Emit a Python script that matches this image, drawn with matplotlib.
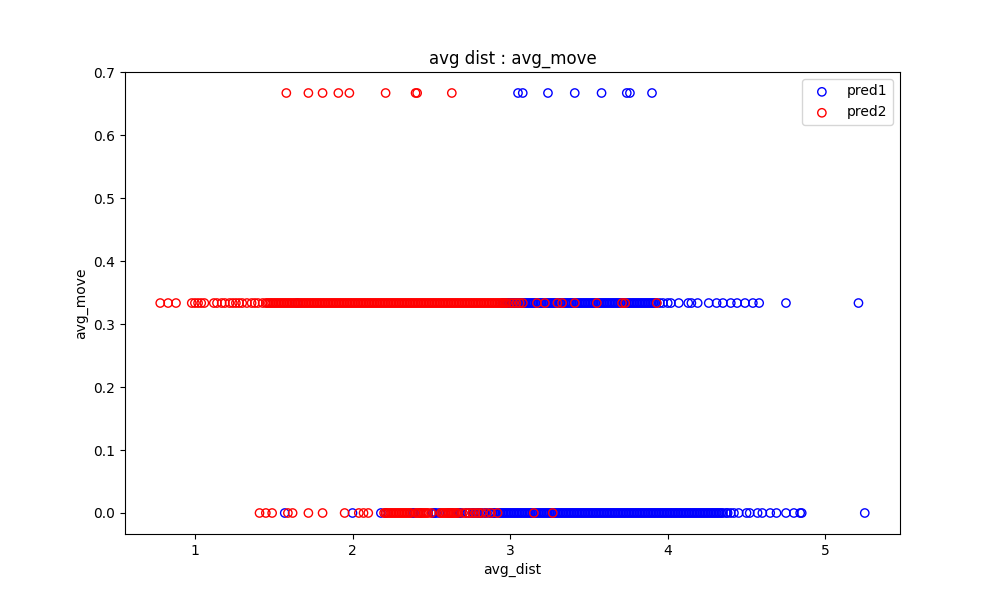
import numpy as np
import matplotlib
matplotlib.use('Agg')
import matplotlib.pyplot as plt

# avg_move levels
move_hi = 0.6667
move_mid = 0.3333
move_lo = 0.0

# pred1 (blue) avg_dist per level
p1_hi = [3.05, 3.08, 3.24, 3.41, 3.58, 3.74, 3.76, 3.90]
p1_mid = [1.65, 2.95, 2.98, 3.01, 3.04, 3.06, 3.09, 3.11, 3.14, 3.16, 3.18, 3.21,
          3.23, 3.26, 3.28, 3.31, 3.34, 3.36, 3.39, 3.42, 3.44, 3.47, 3.49, 3.52,
          3.55, 3.57, 3.60, 3.62, 3.65, 3.68, 3.70, 3.72, 3.75, 3.78, 3.81, 3.84,
          3.88, 3.91, 3.95, 4.00, 4.02, 4.07, 4.13, 4.15, 4.19, 4.26, 4.31, 4.35,
          4.40, 4.44, 4.49, 4.54, 4.58, 4.75, 5.21,
          2.96, 2.99, 3.02, 3.05, 3.07, 3.10, 3.12, 3.15, 3.17, 3.19, 3.22, 3.24,
          3.27, 3.29, 3.32, 3.35, 3.37, 3.40, 3.43, 3.45, 3.48, 3.50, 3.53, 3.56,
          3.58, 3.61, 3.63, 3.66, 3.69, 3.71, 3.73, 3.76, 3.79, 3.82, 3.86, 3.89,
          3.93,
          2.97, 3.00, 3.03, 3.08, 3.13, 3.20, 3.25, 3.30, 3.33, 3.38, 3.41, 3.46,
          3.51, 3.54, 3.59, 3.64, 3.67, 3.74, 3.77, 3.80, 3.83, 3.85, 3.87, 3.90,
          3.92, 3.97]
p1_lo = [1.57, 2.00, 2.18, 2.21, 2.38, 2.43, 2.52, 2.55, 2.61, 2.63, 2.67, 2.69,
         2.72, 2.76, 2.79, 2.81, 2.84, 2.87, 2.89, 2.93, 2.95, 2.98, 3.00, 3.02,
         3.05, 3.07, 3.10, 3.12, 3.14, 3.17, 3.19, 3.21, 3.24, 3.26, 3.29, 3.31,
         3.33, 3.36, 3.38, 3.40, 3.43, 3.45, 3.47, 3.50, 3.52, 3.54, 3.57, 3.59,
         3.61, 3.64, 3.66, 3.68, 3.71, 3.73, 3.75, 3.78, 3.80, 3.82, 3.85, 3.87,
         3.89, 3.92, 3.94, 3.96, 3.99, 4.02, 4.05, 4.08, 4.11, 4.14, 4.17, 4.20,
         4.23, 4.26, 4.29, 4.32, 4.35, 4.38, 4.42, 4.45, 4.50, 4.52, 4.57, 4.60,
         4.65, 4.69, 4.75, 4.80, 4.84, 4.85, 5.25,
         2.80, 2.82, 2.85, 2.88, 2.90, 2.91, 2.94, 2.96, 2.97, 2.99, 3.01, 3.03,
         3.04, 3.06, 3.08, 3.09, 3.11, 3.13, 3.15, 3.16, 3.18, 3.20, 3.22, 3.23,
         3.25, 3.27, 3.28, 3.30, 3.32, 3.34, 3.35, 3.37, 3.39, 3.41, 3.42, 3.44,
         3.46, 3.48, 3.49, 3.51, 3.53, 3.55, 3.56, 3.58, 3.60, 3.62, 3.63, 3.65,
         3.67, 3.69, 3.70, 3.72, 3.74, 3.76, 3.77, 3.79, 3.81, 3.83, 3.84, 3.86,
         3.88, 3.90, 3.91, 3.93, 3.95, 3.97, 3.98, 4.00, 4.01, 4.03, 4.04, 4.06,
         4.07, 4.09, 4.10, 4.12, 4.13, 4.15, 4.16, 4.18, 4.19, 4.21, 4.22, 4.24,
         4.25, 4.27, 4.28, 4.30, 4.31, 4.33, 4.34, 4.37, 4.40,
         2.39, 2.51, 2.53, 2.68, 2.74, 2.77]

# pred2 (red) avg_dist per level
p2_hi = [1.58, 1.72, 1.81, 1.91, 1.98, 2.21, 2.40, 2.41, 2.63]
p2_mid = [0.78, 0.83, 0.88, 0.98, 1.00, 1.02, 1.04, 1.06, 1.12, 1.14, 1.17, 1.19,
          1.22, 1.24, 1.26, 1.28, 1.30, 1.33, 1.36, 1.38, 1.40, 1.43, 1.46, 1.48,
          1.50, 1.53, 1.55, 1.57, 1.59, 1.61, 1.63, 1.66, 1.68, 1.70, 1.72, 1.74,
          1.76, 1.78, 1.80, 1.82, 1.84, 1.86, 1.88, 1.90, 1.92, 1.94, 1.96, 1.98,
          2.00, 2.02, 2.04, 2.06, 2.08, 2.10, 2.12, 2.14, 2.16, 2.18, 2.20, 2.22,
          2.24, 2.26, 2.28, 2.30, 2.32, 2.34, 2.36, 2.38, 2.40, 2.42, 2.44, 2.46,
          2.48, 2.50, 2.52, 2.54, 2.56, 2.58, 2.60, 2.62, 2.64, 2.66, 2.68, 2.70,
          2.72, 2.74, 2.76, 2.78, 2.80, 2.83, 2.86, 2.89, 2.92, 2.95, 2.98, 3.02,
          3.06, 3.08, 3.17, 3.22, 3.30, 3.33, 3.41, 3.55, 3.71, 3.73, 3.93,
          1.75, 1.77, 1.79, 1.81, 1.83, 1.85, 1.87, 1.89, 1.91, 1.93, 1.95, 1.97,
          1.99, 2.01, 2.03, 2.05, 2.07, 2.09, 2.11, 2.13, 2.15, 2.17, 2.19, 2.21,
          2.23, 2.25, 2.27, 2.29, 2.31, 2.33, 2.35, 2.37, 2.39, 2.41, 2.43, 2.45,
          2.47, 2.49, 2.51, 2.53, 2.55, 2.57, 2.59, 2.61, 2.63, 2.65, 2.67, 2.69,
          2.71, 2.73, 2.75, 2.77, 2.79, 2.81, 2.84, 2.87, 2.90, 2.93, 2.96, 3.00,
          3.04,
          1.45, 1.47, 1.49, 1.51, 1.52, 1.54, 1.56, 1.58, 1.60, 1.62, 1.64, 1.65,
          1.67, 1.69, 1.71, 1.73, 2.82, 2.85, 2.88, 2.91, 2.94, 2.97]
p2_lo = [1.41, 1.45, 1.49, 1.59, 1.62, 1.72, 1.81, 1.95, 2.04, 2.07, 2.10, 2.20,
         2.22, 2.24, 2.26, 2.28, 2.30, 2.32, 2.34, 2.36, 2.40, 2.42, 2.44, 2.46,
         2.48, 2.50, 2.56, 2.58, 2.60, 2.62, 2.64, 2.66, 2.70, 2.74, 2.78, 2.82,
         2.85, 2.88, 2.92, 3.15, 3.27,
         2.21, 2.23, 2.25, 2.27, 2.29, 2.31, 2.33, 2.35, 2.37, 2.41, 2.43, 2.45,
         2.47, 2.57, 2.59, 2.61, 2.63, 2.65, 2.67, 2.72, 2.76, 2.80]

x1 = p1_hi + p1_mid + p1_lo
y1 = [move_hi] * len(p1_hi) + [move_mid] * len(p1_mid) + [move_lo] * len(p1_lo)
x2 = p2_hi + p2_mid + p2_lo
y2 = [move_hi] * len(p2_hi) + [move_mid] * len(p2_mid) + [move_lo] * len(p2_lo)

fig = plt.figure(figsize=(10, 6), dpi=100)
ax = fig.add_subplot()
ax.scatter(x1, y1, facecolors='none', edgecolors='b', label='pred1')
ax.scatter(x2, y2, facecolors='none', edgecolors='r', label='pred2')
ax.set_title('avg dist : avg_move')
ax.set_xlabel('avg_dist')
ax.set_ylabel('avg_move')
ax.legend(loc='upper right')
plt.savefig('out.png')
